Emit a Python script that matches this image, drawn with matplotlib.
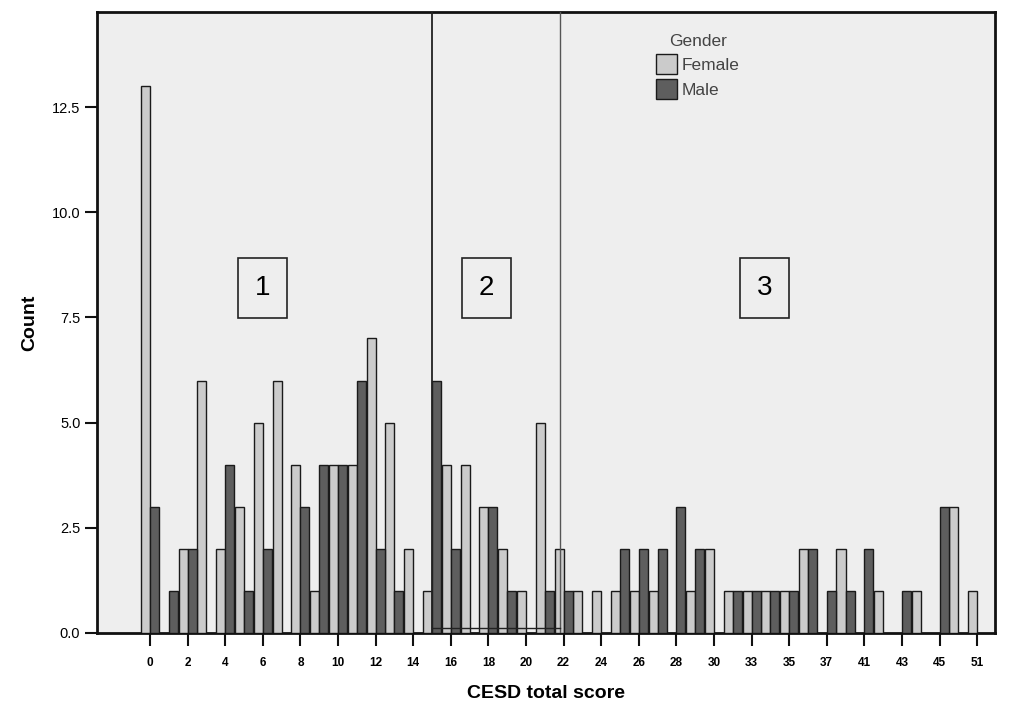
import matplotlib
matplotlib.use("Agg")
import matplotlib.pyplot as plt
import numpy as np
from matplotlib.patches import Patch

plt.rcParams['font.family'] = ['Liberation Sans', 'DejaVu Sans']

scores = ["0", "1", "2", "3", "4", "5", "6", "7", "8", "9", "10", "11", "12", "13", "14",
          "15", "16", "17", "18", "19", "20", "21", "22", "23", "24", "25", "26", "27", "28",
          "29", "30", "32", "33", "34", "35", "36", "37", "39", "41", "42", "43", "44", "45",
          "47", "51"]
female = [13, 0, 2, 6, 2, 3, 5, 6, 4, 1, 4, 4, 7, 5, 2,
          1, 4, 4, 3, 2, 1, 5, 2, 1, 1, 1, 1, 1, 0,
          1, 2, 1, 1, 1, 1, 2, 0, 2, 0, 1, 0, 1, 0,
          3, 1]
male = [3, 1, 2, 0, 4, 1, 2, 0, 3, 4, 4, 6, 2, 1, 0,
        6, 2, 0, 3, 1, 0, 1, 1, 0, 0, 2, 2, 2, 3,
        2, 0, 1, 1, 1, 1, 2, 1, 1, 2, 0, 1, 0, 3,
        0, 0]
yticks = [0.0, 2.5, 5.0, 7.5, 10.0, 12.5]
cut_points = [15.0, 21.8]
zones = ["1", "2", "3"]
zone_x = [6.0, 17.9, 32.7]

fig = plt.figure(figsize=(10.21, 7.02), dpi=100)
ax = fig.add_axes([0.095, 0.0983, 0.8795, 0.8847])
ax.set_facecolor('#eeeeee')

x = np.arange(len(scores))
w = 0.48
fcol = '#cbcbcb'
mcol = '#5e5e5e'
fv = np.array(female, dtype=float)
mv = np.array(male, dtype=float)
fm = fv > 0
mm = mv > 0
ax.bar((x - w / 2)[fm], fv[fm], width=w, color=fcol, edgecolor='#1a1a1a', linewidth=1.0, zorder=3)
ax.bar((x + w / 2)[mm], mv[mm], width=w, color=mcol, edgecolor='#1a1a1a', linewidth=1.0, zorder=3)

ax.set_xlim(-2.82, 44.95)
ax.set_ylim(0, 14.76)

ax.set_xticks(x[::2])
ax.set_xticklabels(scores[::2], fontsize=8.5, fontweight='bold')
ax.set_yticks(yticks)
ax.set_yticklabels([f"{v:.1f}" for v in yticks], fontsize=10.5)
ax.tick_params(axis='x', length=9, width=1.5, pad=8, color='#111111')
ax.tick_params(axis='y', length=9, width=1.5, pad=3, color='#111111')

for s in ax.spines.values():
    s.set_linewidth(2)
    s.set_color('#111111')

# region separators
ax.axvline(cut_points[0], color='#222222', linewidth=1.3, zorder=4)
ax.axvline(cut_points[1], color='#555555', linewidth=1.0, zorder=4)
ax.plot([cut_points[0], cut_points[1]], [0.12, 0.12], color='#222222', linewidth=1.0, zorder=5)

for zx, zl in zip(zone_x, zones):
    ax.text(zx, 8.2, zl, fontsize=20, ha='center', va='center', zorder=6,
            bbox=dict(boxstyle='square,pad=0.6', facecolor='none', edgecolor='#222222', linewidth=1.2))

ax.set_xlabel("CESD total score", fontsize=14, fontweight='bold', labelpad=12)
ax.set_ylabel("Count", fontsize=14, fontweight='bold', labelpad=10)

handles = [Patch(facecolor=fcol, edgecolor='#1a1a1a', label='Female'),
           Patch(facecolor=mcol, edgecolor='#1a1a1a', label='Male')]
leg = ax.legend(handles=handles, title='Gender', loc='upper left', bbox_to_anchor=(0.605, 0.99),
                frameon=False, fontsize=12.5, title_fontsize=12.5, handlelength=1.2, handleheight=1.4,
                handletextpad=0.3, labelspacing=0.3, labelcolor='#444444')
leg.get_title().set_color('#444444')

fig.savefig("out.png", dpi=100)
